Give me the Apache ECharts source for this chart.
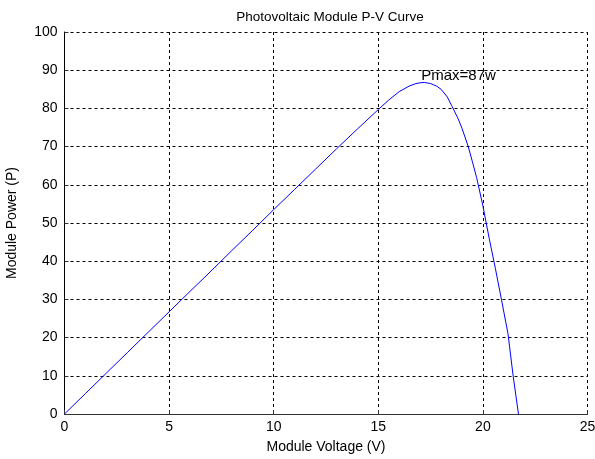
<!DOCTYPE html>
<html><head><meta charset="utf-8">
<script src="https://cdn.jsdelivr.net/npm/echarts@6/dist/echarts.min.js"></script>
<style>html,body{margin:0;padding:0;background:#fff}#c{width:595px;height:459px}</style>
</head><body><div id="c"></div>
<script>
const voltage = [0,1,2,3,4,5,6,7,8,9,10,11,12,13,14,15,15.5,16,16.5,16.8,17,17.2,17.5,17.8,18,18.3,18.5,18.8,19,19.3,19.5,19.7,20,20.3,20.6,20.9,21.2,21.45,21.7];
const power   = [0,5.35,10.7,16.05,21.4,26.75,32.1,37.4,42.8,48.1,53.5,58.8,64.1,69.4,74.6,79.7,82.2,84.4,85.9,86.5,86.7,86.8,86.5,85.8,85.0,83.0,80.8,77.5,74.8,70.0,66.0,61.9,54.5,46.0,38.0,29.6,21.0,9.8,0];
const xTicks = [0,5,10,15,20,25];
const yTicks = [0,10,20,30,40,50,60,70,80,90,100];
const annotText = ['Pmax=87w'];
const annotAt = [[17.05, 88.6]];

const chart = echarts.init(document.getElementById('c'));
const font = 'Liberation Sans, Arial, sans-serif';
chart.setOption({
  animation:false,
  backgroundColor:'#fff',
  title:{text:'Photovoltaic Module P-V Curve', left:325, top:5, textAlign:'center',
    textStyle:{fontFamily:font,fontSize:13.5,fontWeight:'normal',color:'#000'}},
  grid:{left:64.5,right:7.5,top:32,bottom:45,show:false,containLabel:false,outerBoundsMode:'none'},
  xAxis:{type:'value',min:xTicks[0],max:xTicks[xTicks.length-1],interval:5,
    name:'Module Voltage (V)',nameLocation:'middle',nameGap:26,
    nameTextStyle:{fontFamily:font,fontSize:14,color:'#000'},
    axisLine:{show:true,onZero:false,lineStyle:{color:'#333',width:1}},
    axisTick:{show:true,inside:true,length:4,lineStyle:{color:'#333'}},
    axisLabel:{fontFamily:font,fontSize:14,color:'#000',margin:6},
    splitLine:{show:true,lineStyle:{color:'#000',type:[3,3],width:1}}},
  yAxis:{type:'value',min:yTicks[0],max:yTicks[yTicks.length-1],interval:10,
    name:'Module Power (P)',nameLocation:'middle',nameGap:45,
    nameTextStyle:{fontFamily:font,fontSize:14,color:'#000'},
    axisLine:{show:true,onZero:false,lineStyle:{color:'#000',width:1}},
    axisTick:{show:true,inside:true,length:4,lineStyle:{color:'#333'}},
    axisLabel:{fontFamily:font,fontSize:14,color:'#000',margin:7},
    splitLine:{show:true,lineStyle:{color:'#000',type:[3,3],width:1}}},
  series:[{
    type:'line',
    data:voltage.map((v,i)=>[v,power[i]]),
    showSymbol:false,symbol:'none',
    smooth:false,
    lineStyle:{color:'#0000ff',width:1},
    markPoint:{symbol:'circle',symbolSize:0,silent:true,
      data:annotAt.map((c,i)=>({coord:c,value:annotText[i],
        label:{show:true,formatter:annotText[i],position:'right',distance:0,
          fontFamily:font,fontSize:15,color:'#000'}}))}
  }]
});
</script></body></html>
